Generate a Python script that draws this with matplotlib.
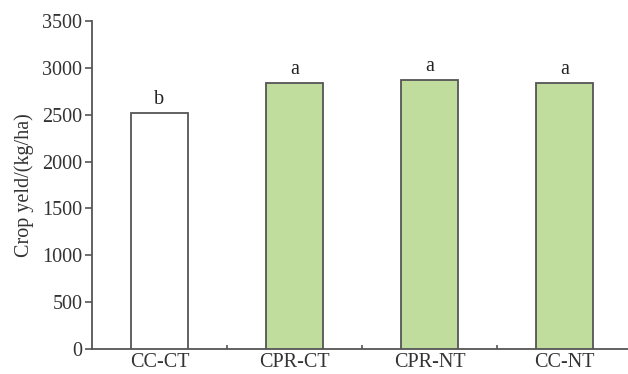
import matplotlib
matplotlib.use("Agg")
import matplotlib.pyplot as plt
from matplotlib.ticker import FixedLocator

plt.rcParams['font.family'] = ['Liberation Serif', 'DejaVu Serif']

# data
treatments = ["CC-CT", "CPR-CT", "CPR-NT", "CC-NT"]
yields = [2520, 2840, 2870, 2840]
letters = ["b", "a", "a", "a"]
fills = ["white", "#c1dd9e", "#c1dd9e", "#c1dd9e"]

axis_col = "#555555"

fig = plt.figure(figsize=(6.28, 3.74), dpi=100)
ax = fig.add_axes([0.1465, 0.0668, 0.8535, 0.877])

x = range(len(treatments))
bars = ax.bar(x, yields, width=0.42, color=fills, edgecolor=axis_col, linewidth=1.3, zorder=3)

for b, lab in zip(bars, letters):
    ax.text(b.get_x() + b.get_width() / 2, b.get_height() + 40, lab,
            ha="center", va="bottom", fontsize=14.5, color="#222222")

ax.set_xlim(-0.5, 3.47)
ax.set_ylim(0, 3500)
ax.set_yticks(range(0, 3501, 500))
ax.set_xticks(list(x))
ax.set_xticklabels(treatments)
ax.xaxis.set_minor_locator(FixedLocator([0.5, 1.5, 2.5]))

ax.set_ylabel("Crop yeld/(kg/ha)", fontsize=14.5, color="#333333", labelpad=6)

for s in ["top", "right"]:
    ax.spines[s].set_visible(False)
for s in ["left", "bottom"]:
    ax.spines[s].set_color(axis_col)
    ax.spines[s].set_linewidth(1.3)

ax.tick_params(axis="y", direction="out", length=5, width=1.2, color=axis_col,
               labelsize=14.5, labelcolor="#333333", pad=2)
ax.tick_params(axis="x", which="major", length=0, labelsize=14.5, labelcolor="#333333", pad=3)
ax.tick_params(axis="x", which="minor", direction="in", length=3, width=1.2, color=axis_col)

fig.savefig("out.png", dpi=100)
